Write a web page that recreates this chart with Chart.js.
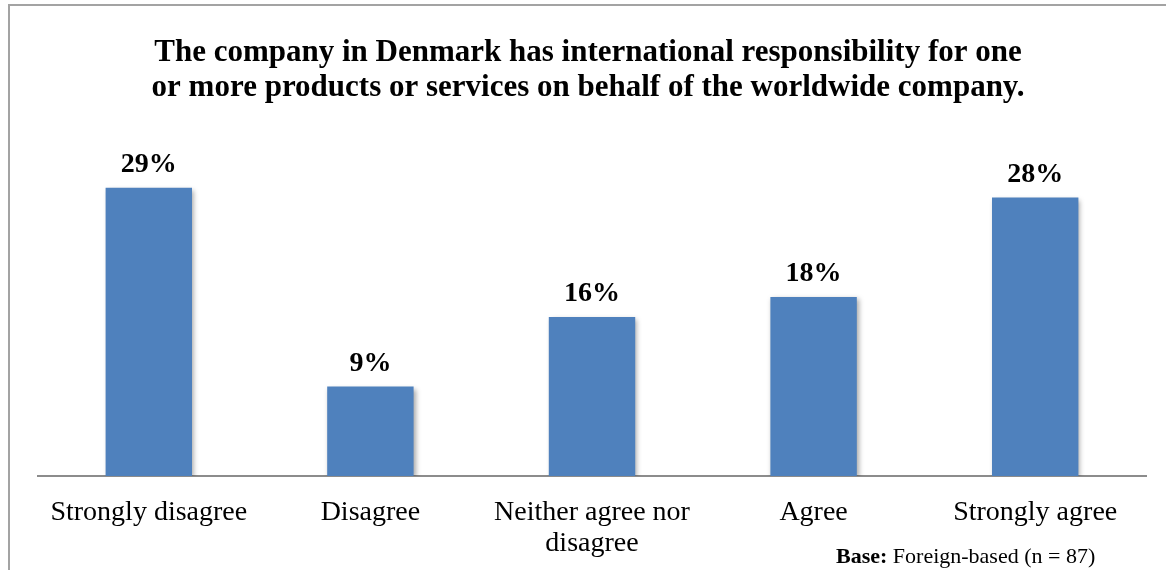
<!DOCTYPE html>
<html>
<head>
<meta charset="utf-8">
<script src="https://cdn.jsdelivr.net/npm/chart.js@4.4.1/dist/chart.umd.min.js"></script>
<style>
  html, body { margin: 0; padding: 0; background: #fff; overflow: hidden; }
  #frame {
    position: absolute; left: 8px; top: 4px; width: 1200px; height: 620px;
    border: 2px solid #a3a3a3; box-sizing: border-box;
  }
  #chart { position: absolute; left: 0; top: 0; }
</style>
</head>
<body>
<div id="frame"></div>
<canvas id="chart" width="1166" height="570"></canvas>
<script>
const categories = [
  'Strongly disagree',
  'Disagree',
  ['Neither agree nor', 'disagree'],
  'Agree',
  'Strongly agree'
];
const shares = [29, 9, 16, 18, 28];
const titleLines = [
  'The company in Denmark has international responsibility for one',
  'or more products or services on behalf of the worldwide company.'
];
const baseLabel = 'Base:';
const baseText = ' Foreign-based (n = 87)';

const serif = "'Liberation Serif', 'Times New Roman', serif";

// soft drop shadow behind the columns
const barShadow = {
  id: 'barShadow',
  beforeDatasetsDraw(chart) {
    const ctx = chart.ctx;
    ctx.save();
    ctx.shadowColor = 'rgba(0,0,0,0.35)';
    ctx.shadowBlur = 5;
    ctx.shadowOffsetX = 2;
    ctx.shadowOffsetY = 2;
  },
  afterDatasetsDraw(chart) {
    chart.ctx.restore();
  }
};

// title, value labels above bars and the base note
const annotations = {
  id: 'annotations',
  afterDraw(chart) {
    const ctx = chart.ctx;
    ctx.save();
    ctx.fillStyle = '#000';
    ctx.textAlign = 'center';
    ctx.textBaseline = 'alphabetic';

    ctx.font = 'bold 31px ' + serif;
    ctx.fillText(titleLines[0], 588, 61);
    ctx.fillText(titleLines[1], 588, 96);

    ctx.font = 'bold 28px ' + serif;
    const meta = chart.getDatasetMeta(0);
    meta.data.forEach((bar, i) => {
      ctx.fillText(shares[i] + '%', bar.x, bar.y - 16);
    });

    ctx.textAlign = 'left';
    ctx.font = 'bold 22px ' + serif;
    const x0 = 836;
    ctx.fillText(baseLabel, x0, 563);
    const w = ctx.measureText(baseLabel).width;
    ctx.font = '22px ' + serif;
    ctx.fillText(baseText, x0 + w, 563);
    ctx.restore();
  }
};

new Chart(document.getElementById('chart'), {
  type: 'bar',
  data: {
    labels: categories,
    datasets: [{
      data: shares,
      backgroundColor: '#4f81bd',
      borderWidth: 0,
      barPercentage: 0.39,
      categoryPercentage: 1
    }]
  },
  options: {
    responsive: false,
    animation: false,
    events: [],
    layout: { padding: { left: 38, right: 20, top: 128, bottom: 0 } },
    plugins: {
      legend: { display: false },
      tooltip: { enabled: false }
    },
    scales: {
      x: {
        grid: { display: false },
        border: { display: true, color: '#8c8c8c', width: 2 },
        ticks: {
          color: '#000',
          padding: 13,
          maxRotation: 0,
          autoSkip: false,
          font: { family: serif, size: 28, lineHeight: 1.1 }
        },
        afterFit(scale) { scale.height = 94; }
      },
      y: {
        display: false,
        min: 0,
        max: 35
      }
    }
  },
  plugins: [barShadow, annotations]
});
</script>
</body>
</html>
